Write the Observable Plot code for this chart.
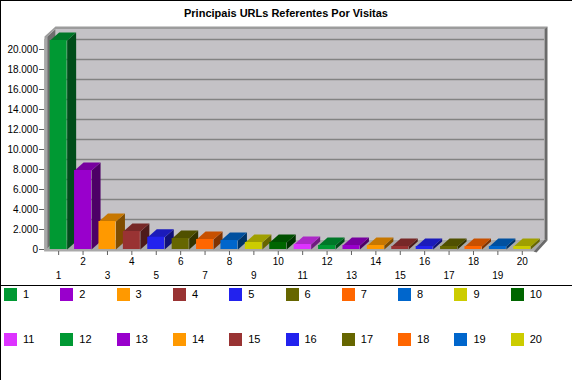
<!DOCTYPE html>
<html><head><meta charset="utf-8">
<script src="https://cdn.jsdelivr.net/npm/d3@7"></script>
<script src="https://cdn.jsdelivr.net/npm/@observablehq/plot@0.6"></script>
<style>
body{margin:0;background:#fff;}
#wrap{position:relative;width:572px;height:380px;overflow:hidden;background:#fff;font-family:"Liberation Sans",Arial,sans-serif;}
#wrap svg{position:absolute;left:0;top:0;}
.title{position:absolute;left:0;top:7px;width:572px;text-align:center;font-weight:bold;font-size:11px;line-height:13px;color:#000;}
.bl{position:absolute;left:0;top:0;width:1px;height:380px;background:#000;}
.bt{position:absolute;left:0;top:0;width:572px;height:1px;background:#000;}
.sep{position:absolute;left:0;top:285px;width:572px;height:1px;background:#000;}
.sw{position:absolute;width:13px;height:13px;}
.lb{position:absolute;font-size:11px;line-height:13px;color:#000;}
</style></head>
<body><div id="wrap"></div>
<script>
// ---- data ----
const categories = ["1","2","3","4","5","6","7","8","9","10","11","12","13","14","15","16","17","18","19","20"];
const visits = [20900, 7900, 2800, 1800, 1230, 1100, 1000, 900, 700, 700, 500, 400, 400, 400, 300, 300, 300, 300, 300, 300];
const palette = ["#009933","#9900cc","#ff9900","#993333","#2222ee","#666600","#ff6600","#0066cc","#cccc00","#006600","#dd33ff"];
const yTicks = [0, 2000, 4000, 6000, 8000, 10000, 12000, 14000, 16000, 18000, 20000];
const chartTitle = "Principais URLs Referentes Por Visitas";

// ---- scales ----
const xDomain = [0.42, 20.46], xRange = [44, 533];
const yDomain = [0, 20000], yRange = [249, 49];
const yTop = 21050; // top of the plotting box
const kx = (xRange[1] - xRange[0]) / (xDomain[1] - xDomain[0]);
const ky = (yRange[0] - yRange[1]) / (yDomain[1] - yDomain[0]);
const ux = p => p / kx, uy = p => p / ky;
const L = xDomain[0], R = xDomain[1];
const W = ux(11), D = uy(10);   // wall depth
const F = -uy(2);               // floor front edge
const T = yTop;
const bdx = ux(9), bdy = uy(8); // bar depth
const hw = ux(8.5);             // half bar width

const fmt = d3.formatLocale({decimal: ",", thousands: ".", grouping: [3], currency: ["", ""]}).format(",d");
const shade = (c, k) => { const r = d3.rgb(c); return d3.rgb(r.r * k, r.g * k, r.b * k).formatHex(); };

const bars = visits.map((v, i) => ({i: i + 1, v, label: categories[i], color: palette[i % palette.length]}));

const poly = (id, fill, pts) => pts.map(([x, y]) => ({id, fill, x, y}));

const walls = [
  ...poly("back", "#c4c2c6", [[L + W, D], [L + W, T + D], [R + W, T + D], [R + W, D]]),
  ...poly("left", "#6e6e6e", [[L, F], [L, T], [L + W, T + D], [L + W, F + D]]),
  ...poly("leftrim", "#a8a8a8", [[L, F], [L, T], [L + ux(3), T + uy(3)], [L + ux(3), F + uy(3)]]),
  ...poly("toprim", "#9c9c9c", [[L, T], [L + W, T + D], [R + W, T + D], [R + W + ux(3), T + D + uy(2.5)], [L + W, T + D + uy(2.5)], [L, T + uy(2.5)]]),
  ...poly("rightrim", "#6a6a6a", [[R + W, D], [R + W, T + D], [R + W + ux(3), T + D + uy(2.5)], [R + W + ux(3), D - uy(1)]])
];
const floor = [
  ...poly("floor", "#a9a9a9", [[L, F], [R, F], [R + W, D], [L + W, D]]),
  ...poly("floorside", "#6a6a6a", [[R, F], [R + W, D], [R + W + ux(3), D - uy(1)], [R + ux(3), F - uy(1)]])
];
const faces = bars.flatMap(b => {
  const xl = b.i - hw, xr = b.i + hw;
  return [
    ...poly("s" + b.i, shade(b.color, 0.5), [[xr, 0], [xr, b.v], [xr + bdx, b.v + bdy], [xr + bdx, bdy]]),
    ...poly("t" + b.i, shade(b.color, 0.78), [[xl, b.v], [xr, b.v], [xr + bdx, b.v + bdy], [xl + bdx, b.v + bdy]])
  ];
});

const chart = Plot.plot({
  width: 572, height: 285,
  marginTop: 0, marginRight: 0, marginBottom: 0, marginLeft: 0,
  x: {domain: xDomain, range: xRange, axis: null},
  y: {domain: yDomain, range: yRange, axis: null},
  color: {type: "identity"},
  style: {background: "transparent", fontFamily: "'Liberation Sans', Arial, sans-serif", fontSize: "10px", color: "#000"},
  marks: [
    Plot.line(walls, {x: "x", y: "y", z: "id", fill: "fill", stroke: "none", curve: "linear"}),
    Plot.ruleY(yTicks.filter(d => d > 0), {y: d => d + D, x1: L + W, x2: R + W, stroke: "#828282", strokeWidth: 1.5}),
    Plot.line(floor, {x: "x", y: "y", z: "id", fill: "fill", stroke: "none", curve: "linear"}),
    Plot.line(faces, {x: "x", y: "y", z: "id", fill: "fill", stroke: "none", curve: "linear"}),
    Plot.rect(bars, {x1: d => d.i - hw, x2: d => d.i + hw, y1: 0, y2: "v", fill: "color"}),
    Plot.ruleY(yTicks, {y: d => d, x1: L - ux(5), x2: L, stroke: "#606060"}),
    Plot.text(yTicks, {x: L, y: d => d, text: d => fmt(d), textAnchor: "end", dx: -6.5, fill: "#000"}),
    Plot.ruleX(bars, {x: "i", y1: F, y2: F - uy(4), stroke: "#606060"}),
    Plot.text(bars, {x: "i", y: d => d.i % 2 === 0 ? F - uy(10.5) : F - uy(24.5), text: "label", fill: "#000"})
  ]
});

const wrap = document.getElementById("wrap");
wrap.appendChild(chart);
const t = document.createElement("div"); t.className = "title"; t.textContent = chartTitle; wrap.appendChild(t);
["bl", "bt", "sep"].forEach(c => { const e = document.createElement("div"); e.className = c; wrap.appendChild(e); });
bars.forEach((b, k) => {
  const row = Math.floor(k / 10), col = k % 10;
  const left = 4 + col * 56.3, top = row === 0 ? 288 : 333;
  const s = document.createElement("div"); s.className = "sw";
  s.style.left = left + "px"; s.style.top = top + "px"; s.style.background = b.color;
  const l = document.createElement("div"); l.className = "lb";
  l.style.left = (left + 19) + "px"; l.style.top = top + "px"; l.textContent = b.label;
  wrap.appendChild(s); wrap.appendChild(l);
});
</script>
</body></html>
